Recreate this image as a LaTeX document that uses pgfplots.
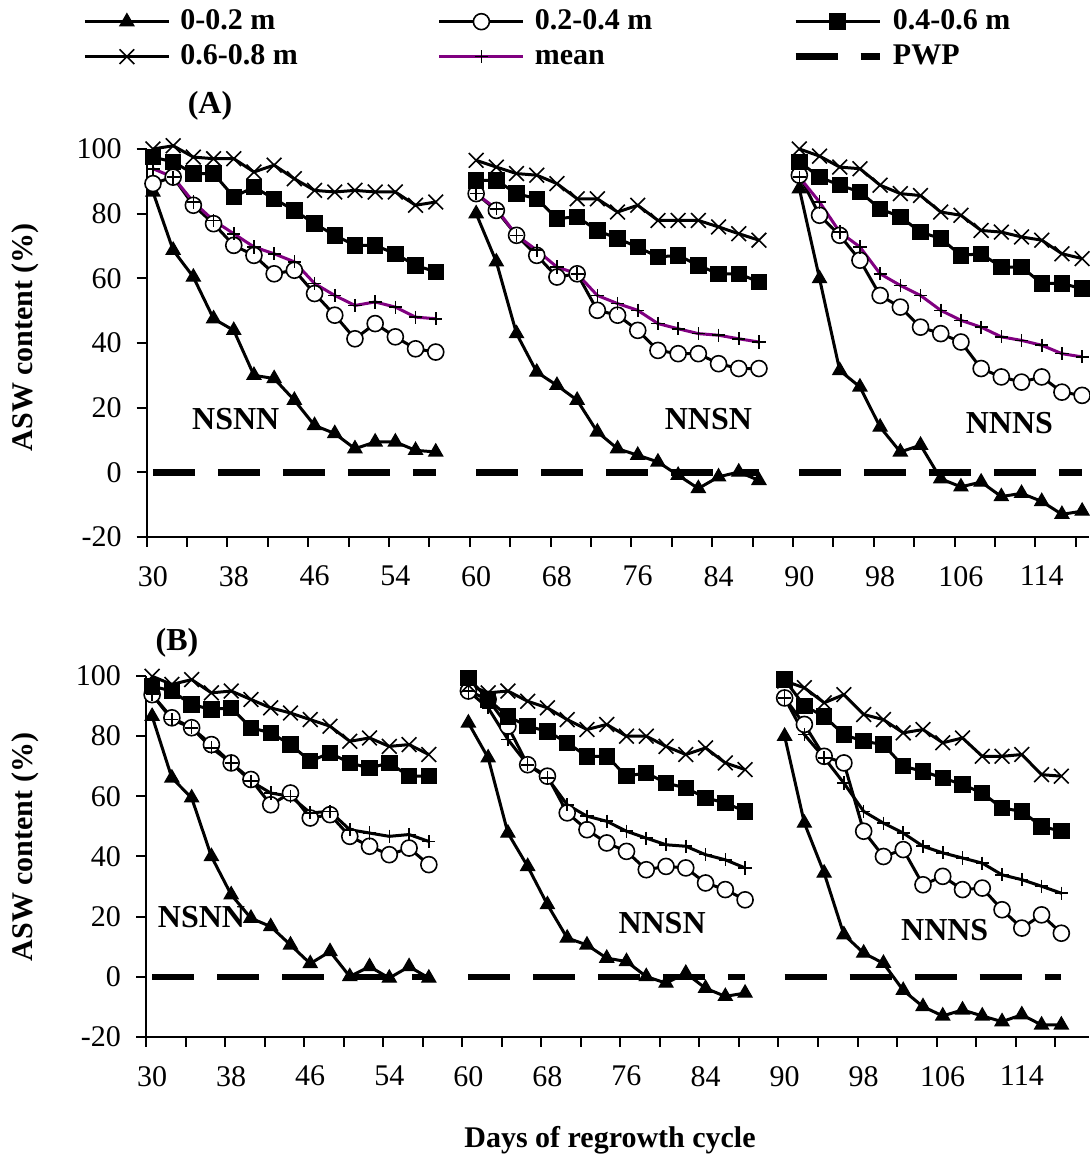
\documentclass[border=0pt]{standalone}
\usepackage{fontspec}
\setmainfont{Liberation Serif}
\usepackage{pgfplots}
\pgfplotsset{compat=1.18}
\usepackage{pgfplotstable}
\definecolor{meanpurple}{RGB}{128,0,128}

% i = category index (2-day steps, gap rows = nan)
% t: 0-0.2 m, c: 0.2-0.4 m, s: 0.4-0.6 m, x: 0.6-0.8 m, m: mean, p: PWP
\pgfplotstableread{
i  t     c    s    x     m    p
0  86.7  89.3 97.5 100.0 93.9 0
1  68.7  91.3 96.0 101.0 91.3 0
2  60.4  82.6 92.4 97.5  83.6 0
3  47.5  76.9 92.4 97.0  77.9 0
4  43.9  70.2 85.2 97.0  73.8 0
5  30.0  67.1 88.2 92.9  69.7 0
6  29.0  61.4 84.6 95.0  67.6 0
7  22.3  62.5 81.0 90.8  65.1 0
8  14.5  55.3 76.9 87.2  58.4 0
9  12.0  48.6 73.3 86.7  54.7 0
10 7.3   41.3 70.2 87.2  51.6 0
11 9.4   46.0 70.2 86.7  52.7 0
12 9.4   41.9 67.6 86.7  51.1 0
13 6.8   38.2 64.0 82.6  48.0 0
14 6.3   37.2 62.0 83.6  47.5 0
15 nan   nan  nan  nan   nan  nan
16 80.0  86.2 90.3 96.5  86.2 0
17 65.1  81.0 90.3 94.4  81.5 0
18 42.9  73.3 86.2 92.4  73.3 0
19 31.0  67.1 84.6 91.9  68.7 0
20 26.9  60.4 78.5 89.3  63.5 0
21 22.3  61.4 79.0 84.6  61.4 0
22 12.5  50.1 74.8 84.6  54.7 0
23 7.3   48.6 72.3 80.5  52.2 0
24 5.3   43.9 69.7 82.6  50.1 0
25 3.2   37.7 66.6 77.9  46.0 0
26 -0.9  36.7 67.1 77.9  44.4 0
27 -5.0  36.7 64.0 77.9  42.9 0
28 -1.4  33.6 61.4 75.9  42.4 0
29 0.1   32.1 61.4 73.8  41.3 0
30 -2.5  32.1 58.9 71.8  40.3 0
31 nan   nan  nan  nan   nan  nan
32 87.7  91.9 96.0 100.0 91.3 0
33 59.9  79.5 91.3 97.8  83.6 0
34 31.5  73.3 88.8 94.4  74.3 0
35 26.4  65.6 86.7 93.9  69.7 0
36 14.0  54.7 81.5 88.8  61.4 0
37 6.3   51.1 79.0 86.2  57.8 0
38 8.4   44.9 74.3 85.6  54.7 0
39 -2.0  42.9 72.3 80.5  50.1 0
40 -4.5  40.3 67.1 79.5  47.0 0
41 -3.0  32.1 67.6 74.8  44.9 0
42 -7.5  29.5 63.5 74.3  41.9 0
43 -6.5  27.9 63.5 72.8  40.8 0
44 -9.0  29.5 58.4 71.8  39.3 0
45 -13.0 24.8 58.4 67.6  36.7 0
46 -12.0 23.8 56.8 66.1  35.7 0
}\panelA

\pgfplotstableread{
i  t     c    s    x     m    p
0  86.6  93.8 96.6 99.9  93.8 0
1  66.1  86.1 95.0 97.2  85.5 0
2  59.5  82.8 90.5 98.8  82.8 0
3  40.0  77.2 88.9 94.4  76.1 0
4  27.3  71.1 89.4 95.0  71.1 0
5  19.5  65.6 82.8 92.2  65.0 0
6  16.7  57.2 81.1 89.4  61.1 0
7  10.6  61.1 77.2 87.7  60.0 0
8  4.4   52.8 71.7 85.5  54.5 0
9  8.4   53.9 74.4 83.3  55.0 0
10 0.1   46.7 71.1 78.3  48.9 0
11 3.4   43.4 69.4 79.4  47.8 0
12 -0.4  40.6 71.1 76.6  46.7 0
13 3.4   42.8 66.7 77.2  47.3 0
14 -0.4  37.3 66.7 73.9  45.0 0
15 nan   nan  nan  nan   nan  nan
16 84.4  95.0 99.4 97.0  95.0 0
17 72.8  92.2 92.2 94.4  89.4 0
18 47.8  83.3 86.6 95.0  78.9 0
19 36.7  70.5 83.3 91.6  70.5 0
20 24.0  66.7 81.6 89.4  66.1 0
21 12.9  54.5 77.8 85.5  57.2 0
22 10.6  48.9 73.3 82.2  53.4 0
23 6.2   44.5 73.3 83.9  51.7 0
24 5.1   41.7 66.7 80.0  48.4 0
25 0.1   35.6 67.8 80.0  46.1 0
26 -2.1  36.7 64.4 76.6  43.9 0
27 1.2   36.2 62.8 73.9  43.4 0
28 -3.8  31.2 59.5 76.1  40.6 0
29 -6.5  29.0 57.8 71.1  38.9 0
30 -5.4  25.6 55.0 68.9  36.2 0
31 nan   nan  nan  nan   nan  nan
32 80.0  92.7 98.8 98.3  92.7 0
33 51.1  83.9 90.0 96.1  80.5 0
34 34.5  73.3 86.6 91.1  72.8 0
35 14.0  71.1 80.5 93.8  64.4 0
36 7.9   48.4 78.3 87.2  55.0 0
37 4.5   40.0 77.2 85.5  51.1 0
38 -4.5  42.3 70.0 81.1  47.8 0
39 -9.9  30.6 68.3 82.2  43.4 0
40 -13.0 33.4 66.1 77.8  41.2 0
41 -11.0 29.0 63.9 79.4  39.5 0
42 -13.0 29.5 61.1 73.3  37.8 0
43 -14.9 22.3 56.1 73.3  33.9 0
44 -12.6 16.2 55.0 73.9  32.3 0
45 -16.0 20.6 50.0 67.2  30.1 0
46 -16.0 14.5 48.4 66.7  27.8 0
}\panelB

\tikzset{lbl/.style={font=\bfseries\fontsize{16}{18}\selectfont}}

\pgfplotsset{
  aswaxis/.style={
    scale only axis,
    xmin=-0.31, ymin=-20, ymax=100,
    axis x line*=bottom, axis y line*=left,
    axis line style={black, line width=1pt},
    ytick={-20,0,...,100},
    xtick={-0.31,1.69,3.69,5.69,7.69,9.69,11.69,13.69,15.69,17.69,19.69,21.69,23.69,25.69,27.69,29.69,31.69,33.69,35.69,37.69,39.69,41.69,43.69,45.69},
    xticklabels={30,,38,,46,,54,,60,,68,,76,,84,,90,,98,,106,,114,},
    xtick pos=bottom, ytick pos=left,
    xtick align=outside, ytick align=outside,
    major tick length=5pt,
    every tick/.style={black, line width=1pt},
    tick label style={font=\fontsize{15}{17}\selectfont},
    yticklabel style={xshift=-4pt},
    /pgf/number format/assume math mode=true,
    unbounded coords=jump,
    clip=false,
    ylabel={ASW content (\%)},
    every axis y label/.style={rotate=90, anchor=center,
      font=\bfseries\fontsize{15}{18}\selectfont},
  },
  pwp/.style={black, line width=3.3pt, dash pattern=on 21pt off 11.5pt, mark=none},
  d1/.style={black, line width=1.5pt, mark=triangle*, mark size=4pt,
    mark options={solid, fill=black, line width=0.6pt}},
  d2/.style={black, line width=1.5pt, mark=*, mark size=4pt,
    mark options={solid, fill=white, draw=black, line width=0.8pt}},
  d3/.style={black, line width=1.5pt, mark=square*, mark size=3.8pt,
    mark options={solid, fill=black, line width=0.6pt}},
  d4/.style={black, line width=1.5pt, mark=x, mark size=5.2pt,
    mark options={solid, line width=0.8pt}},
  meanA/.style={meanpurple, line width=1.5pt, mark=+, mark size=3.3pt,
    mark options={solid, draw=black, line width=0.8pt}},
  meanB/.style={black, line width=1.5pt, mark=+, mark size=3.3pt,
    mark options={solid, draw=black, line width=0.8pt}},
}

\begin{document}
\begin{tikzpicture}
% panel A
\begin{axis}[aswaxis,
  at={(73.35pt,309.5pt)}, anchor=south west,
  width=471.15pt, height=194pt, xmax=46.34,
  xticklabel style={xshift=3.13pt, yshift=-6pt},
  ylabel style={at={(axis description cs:-0.129,0.515)}},
  legend columns=3,
  legend cell align=left,
  legend image code/.code={\draw[mark repeat=2,mark phase=2,#1]
    plot coordinates {(0pt,0pt) (21pt,0pt) (42pt,0pt)};},
  legend style={draw=none, fill=none, at={(axis description cs:-0.0676,1.283)},
    anchor=west, inner sep=0pt, row sep=0pt,
    font=\bfseries\fontsize{15}{18}\selectfont,
    nodes={inner xsep=5pt, inner ysep=0pt, text height=12.5pt, text depth=5pt},
    /tikz/every even column/.append style={column sep=65pt}},
]
\addplot[pwp, forget plot] table[x=i, y=p] {\panelA};
\addplot[d1] table[x=i, y=t] {\panelA};
\addlegendentry{0-0.2 m}
\addplot[d2] table[x=i, y=c] {\panelA};
\addlegendentry{0.2-0.4 m}
\addplot[d3] table[x=i, y=s] {\panelA};
\addlegendentry{0.4-0.6 m}
\addplot[d4] table[x=i, y=x] {\panelA};
\addlegendentry{0.6-0.8 m}
\addplot[meanA] table[x=i, y=m] {\panelA};
\addlegendentry{mean}
\addlegendimage{pwp}
\addlegendentry{PWP}
\node[lbl] at (axis cs:4.1,16.4) {NSNN};
\node[lbl] at (axis cs:27.5,16.4) {NNSN};
\node[lbl] at (axis cs:42.4,15.2) {NNNS};
\end{axis}

% panel B
\begin{axis}[aswaxis,
  at={(73pt,59.5pt)}, anchor=south west,
  width=471.5pt, height=180.5pt, xmax=47.4,
  xticklabel style={xshift=3.06pt, yshift=-6pt},
  ylabel style={at={(axis description cs:-0.128,0.526)}},
]
\addplot[pwp] table[x=i, y=p] {\panelB};
\addplot[d1] table[x=i, y=t] {\panelB};
\addplot[d2] table[x=i, y=c] {\panelB};
\addplot[d3] table[x=i, y=s] {\panelB};
\addplot[d4] table[x=i, y=x] {\panelB};
\addplot[meanB] table[x=i, y=m] {\panelB};
\node[lbl] at (axis cs:2.5,19.8) {NSNN};
\node[lbl] at (axis cs:25.8,17.8) {NNSN};
\node[lbl] at (axis cs:40.1,15.6) {NNNS};
\end{axis}

\node[lbl] at (105pt,525pt) {(A)};
\node[lbl] at (88.5pt,256.5pt) {(B)};
\node[font=\bfseries\fontsize{15}{18}\selectfont] at (305pt,8pt) {Days of regrowth cycle};

\pgfresetboundingbox
\useasboundingbox (0,0) rectangle (544.5pt,578pt);
\end{tikzpicture}
\end{document}
